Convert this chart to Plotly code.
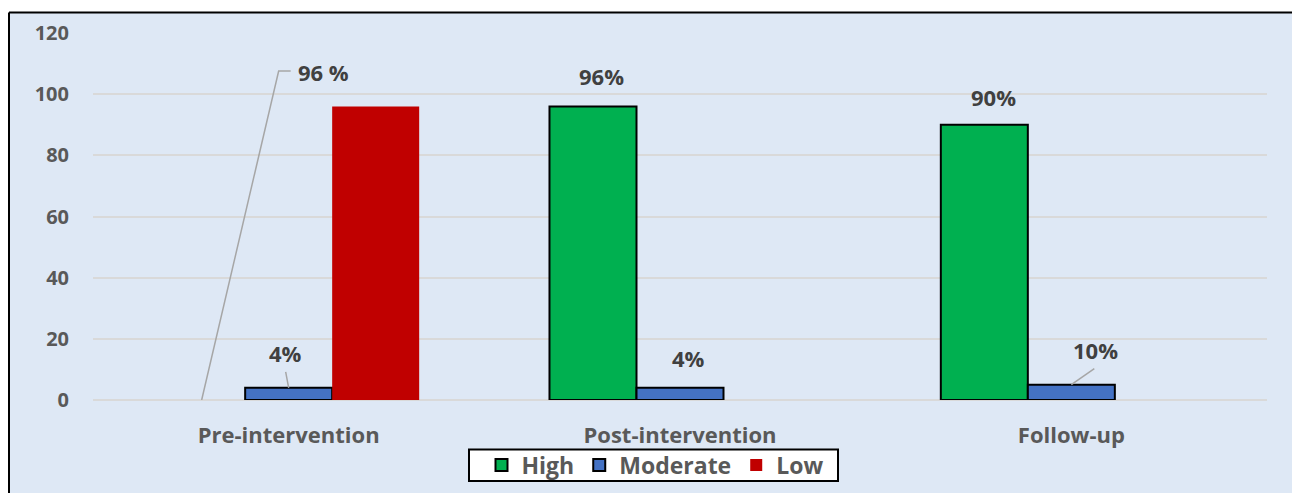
import plotly.graph_objects as go

categories = ["Pre-intervention", "Post-intervention", "Follow-up"]
series_names = ["High", "Moderate", "Low"]
high = [0, 96, 90]
moderate = [4, 4, 5]
low = [96, 0, 0]
high_labels = ["96 %", "96%", "90%"]
moderate_labels = ["4%", "4%", "10%"]
y_ticks = [0, 20, 40, 60, 80, 100, 120]

colors = {"High": "#00b050", "Moderate": "#4472c4", "Low": "#c00000"}
FONT = "Open Sans"
LABEL_COLOR = "#404040"
AXIS_COLOR = "#595959"

BARGAP = 0.333
n_series = 3
bw = (1 - BARGAP) / n_series
offsets = {"High": -bw, "Moderate": 0.0, "Low": bw}

fig = go.Figure()
fig.add_trace(go.Bar(name="High", x=categories, y=high, showlegend=False, legendgroup="High",
                     offsetgroup="High",
                     marker=dict(color=colors["High"],
                                 line=dict(color="black", width=[0 if v == 0 else 2 for v in high]))))
fig.add_trace(go.Bar(name="Moderate", x=categories, y=moderate, showlegend=False, legendgroup="Moderate",
                     offsetgroup="Moderate",
                     marker=dict(color=colors["Moderate"], line=dict(color="black", width=2))))
fig.add_trace(go.Bar(name="Low", x=categories, y=low, showlegend=False, legendgroup="Low",
                     offsetgroup="Low",
                     marker=dict(color=colors["Low"], line=dict(width=0))))
# legend entries (share offset groups so they take no extra slot)
for s, lw in [("High", 2), ("Moderate", 2), ("Low", 0)]:
    fig.add_trace(go.Bar(name=s, x=categories, y=[None] * len(categories), legendgroup=s,
                         offsetgroup=s,
                         marker=dict(color=colors[s], line=dict(color="black", width=lw))))

# label offsets (pixels, y up)
label_style = {
    ("High", 0): (122, 328), ("High", 1): (9, 30), ("High", 2): (9, 28),
    ("Moderate", 0): (-3, 35), ("Moderate", 1): (8, 30), ("Moderate", 2): (24, 35),
}
labels = {"High": high_labels, "Moderate": moderate_labels}
values = {"High": high, "Moderate": moderate}

annotations = []
shapes = []
for s in ["High", "Moderate"]:
    for i in range(3):
        dx, dy = label_style[(s, i)]
        annotations.append(dict(
            x=i + offsets[s], y=values[s][i], xref="x", yref="y",
            text="<b>%s</b>" % labels[s][i], showarrow=False,
            xshift=dx, yshift=dy, xanchor="center", yanchor="middle",
            font=dict(family=FONT, size=22, color=LABEL_COLOR)))

leader_paths = {
    ("High", 0): "M0,0 L77,329 L89,329",
    ("Moderate", 0): "M0,0 L-3,16",
    ("Moderate", 2): "M0,0 L23,16",
}
for (s, i), p in leader_paths.items():
    shapes.append(dict(type="path", xref="x", yref="y", xsizemode="pixel", ysizemode="pixel",
                       xanchor=i + offsets[s], yanchor=values[s][i], path=p,
                       line=dict(color="#a6a6a6", width=1.5), layer="above"))

# background panel with black border (top and left edges visible)
L, R, T, B = 93, 25, 33, 93
W, H = 1292, 493
pw, ph = W - L - R, H - T - B


def px(x):
    return (x - L) / pw


def py(y):
    return (T + ph - y) / ph


shapes.append(dict(type="rect", xref="paper", yref="paper",
                   x0=px(9), x1=px(W + 5), y0=py(H + 5), y1=py(12.5),
                   fillcolor="#dee8f5", line=dict(width=0), layer="below"))
shapes.append(dict(type="line", xref="paper", yref="paper",
                   x0=px(9), x1=px(W + 5), y0=py(12.5), y1=py(12.5),
                   line=dict(color="black", width=2), layer="below"))
shapes.append(dict(type="line", xref="paper", yref="paper",
                   x0=px(9), x1=px(9), y0=py(12.5), y1=py(H + 5),
                   line=dict(color="black", width=2), layer="below"))
# legend box
shapes.append(dict(type="rect", xref="paper", yref="paper",
                   x0=px(469), x1=px(838), y0=py(481), y1=py(449.5),
                   fillcolor="white", line=dict(color="black", width=2), layer="below"))

fig.update_layout(
    width=W, height=H,
    margin=dict(l=L, r=R, t=T, b=B, autoexpand=False),
    paper_bgcolor="white", plot_bgcolor="rgba(0,0,0,0)",
    barmode="group", bargap=BARGAP, bargroupgap=0,
    font=dict(family=FONT, color=AXIS_COLOR),
    annotations=annotations, shapes=shapes,
    legend=dict(orientation="h", xanchor="center", x=px(655), yanchor="middle", y=py(465),
                bgcolor="rgba(0,0,0,0)", borderwidth=0,
                font=dict(family=FONT, size=23, color=AXIS_COLOR, weight="bold"),
                itemclick=False),
    xaxis=dict(showgrid=False, zeroline=False, showline=False,
               ticks="outside", ticklen=16, tickcolor="rgba(0,0,0,0)",
               tickfont=dict(family=FONT, size=22, color=AXIS_COLOR, weight="bold")),
    yaxis=dict(range=[0, 120], tickvals=y_ticks, showgrid=True, gridcolor="#d9d9d9", gridwidth=2,
               zeroline=True, zerolinecolor="#d9d9d9", zerolinewidth=2, showline=False,
               ticks="outside", ticklen=19, tickcolor="rgba(0,0,0,0)",
               tickfont=dict(family=FONT, size=20, color=AXIS_COLOR, weight="bold")),
)

fig.write_html("out.html")
